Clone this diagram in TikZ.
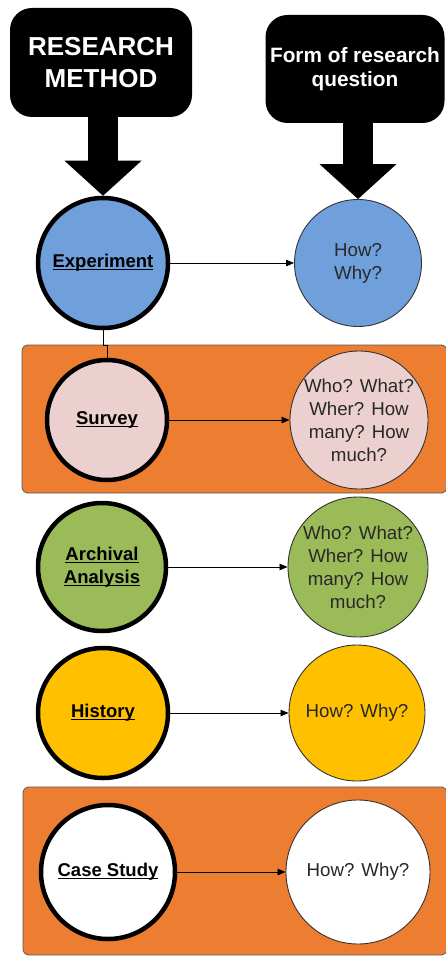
\documentclass[tikz,border=0pt]{standalone}
\usepackage{fontspec}
\setmainfont{Liberation Sans}
\usetikzlibrary{arrows.meta}
\definecolor{cblue}{RGB}{112,160,220}
\definecolor{cpink}{RGB}{236,208,208}
\definecolor{cgreen}{RGB}{155,187,89}
\definecolor{cgold}{RGB}{255,192,0}
\definecolor{corange}{RGB}{237,125,49}
\definecolor{ctext}{RGB}{40,40,40}
\newcommand\mkul[1]{\setbox0\hbox{#1}\rlap{\rule[-2.6pt]{\wd0}{1.3pt}}\box0}
\begin{document}
\begin{tikzpicture}[x=1pt,y=-1pt,
  blackbox/.style={fill=black, rounded corners=22pt, text=white, align=center, inner sep=0pt, font=\bfseries},
  meth/.style={circle, draw=black, line width=4.5pt, minimum size=#1, inner sep=0pt,
    align=center, text=black, font=\bfseries\fontsize{18.5}{23}\selectfont},
  answ/.style={circle, draw=black!80, line width=0.9pt, minimum size=#1, inner sep=0pt},
  anstext/.style={align=center, text=ctext, font=\fontsize{18.7}{23}\selectfont},
  band/.style={fill=corange, draw=black!65, line width=0.8pt, rounded corners=6pt},
  bigarrow/.style={line width=30pt, -{Triangle[width=77pt,length=35pt,line width=0pt]}},
  link/.style={line width=0.8pt, -{Triangle[length=8pt,width=6.5pt]}},
  joint/.style={line width=0.8pt}
]
\useasboundingbox (0,0) rectangle (445,957);
% orange bands
\draw[band] (22,345) rectangle (447,493);
\draw[band] (23,787) rectangle (447,955);
% header boxes
\node[blackbox, minimum width=182pt, minimum height=109pt,
  font=\bfseries\fontsize{26}{32}\selectfont] (hm) at (101,62.5) {RESEARCH\\METHOD};
\node[blackbox, minimum width=179pt, minimum height=108pt,
  font=\bfseries\fontsize{20.8}{24}\selectfont] (hq) at (355,69) {Form of research\\question};
% method circles
\node[meth=130pt, fill=cblue] (exp) at (103,263) {\mkul{Experiment}};
\node[meth=120pt, fill=cpink] (sur) at (107,420) {\mkul{Survey}};
\node[meth=128pt, fill=cgreen] (arc) at (102,567) {\mkul{Archival}\\\mkul{Analysis}};
\node[meth=130pt, fill=cgold] (his) at (103,713) {\mkul{History}};
\node[meth=134pt, fill=white] (cas) at (108,872) {\mkul{Case Study}};
% answer circles
\node[answ=127pt, fill=cblue, label={[anstext]center:How?\\Why?}] (qexp) at (358,263) {};
\node[answ=138pt, fill=cpink, label={[anstext]center:Who? What?\\Wher? How\\many? How\\much?}] (qsur) at (359,420) {};
\node[answ=140pt, fill=cgreen, label={[anstext]center:Who? What?\\Wher? How\\many? How\\much?}] (qarc) at (358,567) {};
\node[answ=136pt, fill=cgold, label={[anstext]center:How? Why?}] (qhis) at (357,713) {};
\node[answ=144pt, fill=white, label={[anstext]center:How? Why?}] (qcas) at (358,872) {};
% big arrows
\draw[bigarrow] (exp.north |- hm.south) -- (exp.north);
\draw[bigarrow] (qexp.north |- hq.south) -- (qexp.north);
% links
\draw[joint] (exp.south) -- ++(0,15) -| (sur.north);
\draw[link] (exp) -- (qexp);
\draw[link] (sur) -- (qsur);
\draw[link] (arc) -- (qarc);
\draw[link] (his) -- (qhis);
\draw[link] (cas) -- (qcas);
\end{tikzpicture}
\end{document}
